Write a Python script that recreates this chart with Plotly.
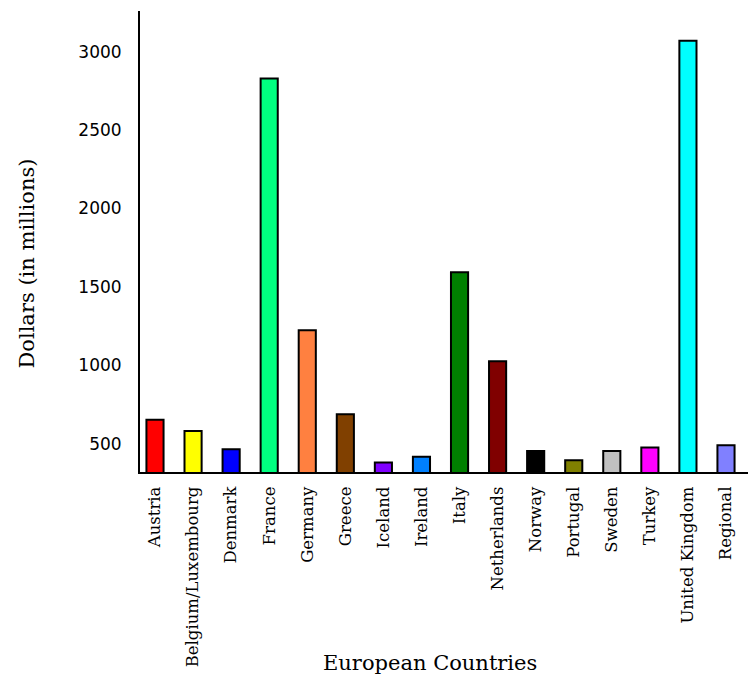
import plotly.graph_objects as go

countries = ["Austria", "Belgium/Luxembourg", "Denmark", "France", "Germany", "Greece",
             "Iceland", "Ireland", "Italy", "Netherlands", "Norway", "Portugal",
             "Sweden", "Turkey", "United Kingdom", "Regional"]
values = [653, 580, 464, 2830, 1223, 687, 379, 417, 1594, 1026, 453, 394, 453, 476, 3070, 489]
colors = ["#FF0000", "#FFFF00", "#0000FF", "#00FF80", "#FF8040", "#804000",
          "#8000FF", "#0080FF", "#008000", "#800000", "#000000", "#808000",
          "#C0C0C0", "#FF00FF", "#00FFFF", "#8080FF"]
y_ticks = [500, 1000, 1500, 2000, 2500, 3000]

fig = go.Figure(go.Bar(
    x=countries, y=values,
    marker=dict(color=colors, line=dict(color="black", width=2)),
    width=0.45,
))

fig.update_layout(
    width=748, height=682,
    margin=dict(l=140, r=0, t=11, b=210),
    paper_bgcolor="white", plot_bgcolor="white",
    showlegend=False,
    xaxis=dict(
        range=[-0.394, 15.578],
        showline=True, linecolor="black", linewidth=2,
        showgrid=False, zeroline=False,
        ticks="outside", ticklen=6, tickcolor="rgba(0,0,0,0)",
        tickangle=-90,
        tickfont=dict(family="DejaVu Serif", size=16.5, color="black"),
    ),
    yaxis=dict(
        range=[319, 3260],
        showline=True, linecolor="black", linewidth=2,
        showgrid=False, zeroline=False,
        tickvals=y_ticks,
        ticks="outside", ticklen=13, tickcolor="rgba(0,0,0,0)",
        tickfont=dict(family="DejaVu Sans", size=17, color="black"),
    ),
    annotations=[
        dict(text="European Countries", xref="paper", yref="paper",
             x=0.477, y=-0.415, showarrow=False, xanchor="center", yanchor="middle",
             font=dict(family="DejaVu Serif", size=21, color="black")),
        dict(text="Dollars (in millions)", xref="paper", yref="paper",
             x=-0.186, y=0.452, showarrow=False, xanchor="center", yanchor="middle",
             textangle=-90,
             font=dict(family="DejaVu Serif", size=21, color="black")),
    ],
)

fig.write_html("out.html")
